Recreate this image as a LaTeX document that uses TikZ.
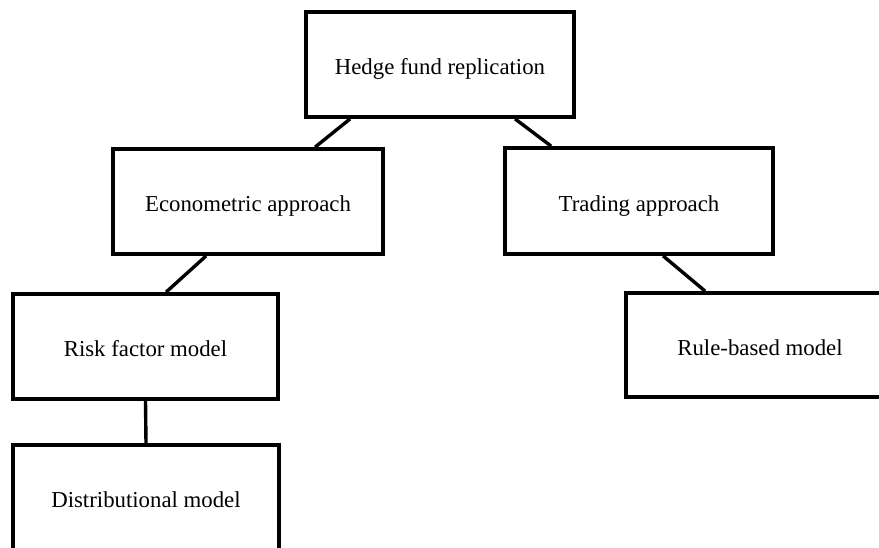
\documentclass[tikz,border=0pt]{standalone}
\usepackage{fontspec}
\setmainfont{Liberation Serif}
\begin{document}
\begin{tikzpicture}[x=1pt,y=-1pt,
  box/.style={draw=black, line width=3.8pt, fill=white, inner sep=0pt,
    text height=20pt, text depth=0pt,
    font=\fontsize{22.8}{26}\selectfont, text=black},
  link/.style={line width=3.4pt, line cap=butt}]
\useasboundingbox (0,0) rectangle (879,547);
\clip (0,0) rectangle (879,547);
\node[box, minimum width=268pt, minimum height=105pt] (hedge) at (440,64.5) {Hedge fund replication};
\node[box, minimum width=270pt, minimum height=105pt] (econ) at (248,201.5) {Econometric approach};
\node[box, minimum width=268pt, minimum height=106pt] (trade) at (639,201) {Trading approach};
\node[box, minimum width=265pt, minimum height=105pt] (risk) at (145.5,346.5) {Risk factor model};
\node[box, minimum width=268pt, minimum height=104pt] (rule) at (760,345) {Rule-based model};
\node[box, minimum width=266pt, minimum height=105pt] (dist) at (146,497.5) {Distributional model};
\draw[link] ([xshift=46pt]hedge.south west) -- ([xshift=204pt]econ.north west);
\draw[link] ([xshift=211pt]hedge.south west) -- ([xshift=48pt]trade.north west);
\draw[link] ([xshift=95pt]econ.south west) -- ([xshift=155pt]risk.north west);
\draw[link] ([xshift=160pt]trade.south west) -- ([xshift=81pt]rule.north west);
\draw[link] (risk.south) -- (dist.north);
\end{tikzpicture}
\end{document}
